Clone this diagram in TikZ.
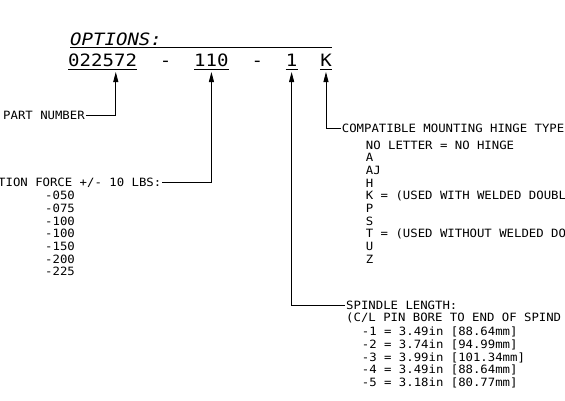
\documentclass[tikz,border=0pt]{standalone}
\usepackage{fontspec}
\newfontfamily\cadbig[FakeStretch=1.12]{DejaVu Sans Mono}
\newfontfamily\cadsmall[FakeStretch=1.08]{DejaVu Sans Mono}
\usetikzlibrary{arrows.meta,positioning}
\tikzset{
    node distance=22.5bp,
    code/.style={inner sep=0pt, font=\fontsize{17bp}{20bp}\cadbig},
    lbl/.style={inner xsep=1bp, inner ysep=0pt, text height=8.3bp, text depth=0pt,
                font=\fontsize{11.4bp}{12.67bp}\cadsmall},
    lst/.style={inner sep=0pt, align=left, font=\fontsize{11.4bp}{12.67bp}\cadsmall},
    pointer/.style={line width=0.8bp, -{Triangle[length=10bp,width=5bp]}},
    uline/.style={line width=0.8bp}
}

\begin{document}
\begin{tikzpicture}[x=1bp, y=1bp]
  \useasboundingbox (0,0) rectangle (565,400);
  \clip (0,0) rectangle (565,400);

  % option code
  \node[code, anchor=base west, font=\fontsize{17bp}{20bp}\cadbig\itshape] (opts) at (70,355) {OPTIONS:};
  \node[code, anchor=base west]  (pn)    at (68,333.3) {022572};
  \node[code, base right=of pn]    (dasha) {-};
  \node[code, base right=of dasha] (force) {110};
  \node[code, base right=of force] (dashb) {-};
  \node[code, base right=of dashb] (len)   {1};
  \node[code, base right=of len]   (hinge) {K};

  \draw[uline] ([yshift=-2.3bp]opts.base west) -- ([yshift=-2.3bp]opts.base west -| hinge.east);
  \foreach \n in {pn,force,len,hinge}
    \draw[uline] ([yshift=-2.6bp]\n.base west) -- ([yshift=-2.6bp]\n.base east);

  % callouts
  \node[lbl, anchor=west] (partlbl)  at (2,285)    {PART NUMBER};
  \node[lbl, anchor=west] (forcelbl) at (-3,217.3) {TION FORCE +/- 10 LBS:};
  \node[lst, below right=4bp and 48bp of forcelbl.south west] (forcelst)
    {-050\\-075\\-100\\-100\\-150\\-200\\-225};

  \node[lbl, anchor=west] (hingelbl) at (340.7,271.7) {COMPATIBLE MOUNTING HINGE TYPE};
  \node[lst, below right=7.7bp and 25bp of hingelbl.south west] (hingelst)
    {NO LETTER = NO HINGE\\A\\AJ\\H\\K = (USED WITH WELDED DOUBL\\P\\S\\T = (USED WITHOUT WELDED DO\\U\\Z};

  \node[lbl, anchor=west] (spinlbl) at (345,95) {SPINDLE LENGTH:};
  \node[lbl, below right=4bp and 0bp of spinlbl.south west] (spinnote) {(C/L PIN BORE TO END OF SPIND};
  \node[lst, below right=5bp and 16.7bp of spinnote.south west] (spinlst)
    {-1 = 3.49in [88.64mm]\\-2 = 3.74in [94.99mm]\\-3 = 3.99in [101.34mm]\\-4 = 3.49in [88.64mm]\\-5 = 3.18in [80.77mm]};

  \draw[pointer] (partlbl.east)  -| ([xshift=13.2bp,yshift=-5.3bp]pn.base);
  \draw[pointer] (forcelbl.east) -| ([yshift=-5.3bp]force.base);
  \draw[pointer] (spinlbl.west)  -| ([yshift=-5.3bp]len.base);
  \draw[pointer] (hingelbl.west) -| ([yshift=-5.3bp]hinge.base);
\end{tikzpicture}
\end{document}
